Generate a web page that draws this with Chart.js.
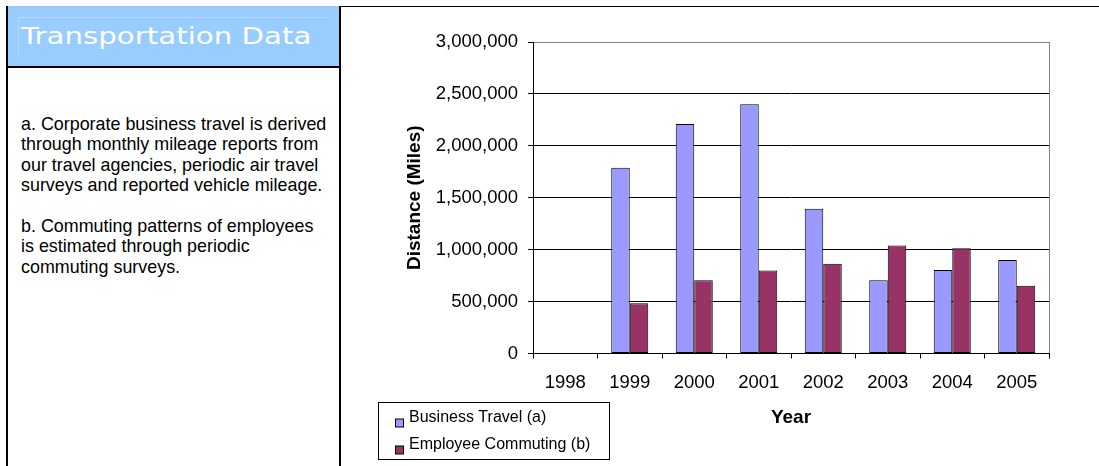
<!DOCTYPE html>
<html>
<head>
<meta charset="utf-8">
<script src="https://cdn.jsdelivr.net/npm/chart.js@4"></script>
<style>
  html, body { margin: 0; padding: 0; background: #fff; }
  body { width: 1099px; height: 466px; overflow: hidden; position: relative; }
  .line { position: absolute; background: #000; }
  #header { position: absolute; left: 8px; top: 6px; width: 331px; height: 60px; background: #99CCFF; }
  #headerFrame { position: absolute; left: 18px; top: 17px; width: 311px; height: 38px;
    border-top: 1px solid #B3D9FF; border-left: 1px solid #B3D9FF; }
  #headerText { position: absolute; left: 21px; top: 25px; font-family: "DejaVu Sans", sans-serif;
    font-size: 22.5px; line-height: 22.5px; color: #fff; white-space: nowrap;
    transform-origin: 0 0; transform: scaleX(1.30); }
  #notes { position: absolute; left: 21px; top: 114px; font-family: "Liberation Sans", Arial, sans-serif;
    font-size: 17.9px; line-height: 20.4px; color: #000; white-space: nowrap; }
  #chartBox { position: absolute; left: 341px; top: 7px; width: 758px; height: 459px; }
</style>
</head>
<body>
<div id="header"></div>
<div id="headerFrame"></div>
<div id="headerText">Transportation Data</div>
<div class="line" style="left:6px;top:6px;width:2px;height:460px"></div>
<div class="line" style="left:339px;top:6px;width:2px;height:460px"></div>
<div class="line" style="left:6px;top:66px;width:335px;height:2px"></div>
<div class="line" style="left:339px;top:6px;width:760px;height:1px"></div>
<div id="notes">a. Corporate business travel is derived<br>through monthly mileage reports from<br>our travel agencies, periodic air travel<br>surveys and reported vehicle mileage.<br><br>b. Commuting patterns of employees<br>is estimated through periodic<br>commuting surveys.</div>
<div id="chartBox"><canvas id="chart" width="758" height="459"></canvas></div>
<script>
// Annual distances in miles
const years = ['1998', '1999', '2000', '2001', '2002', '2003', '2004', '2005'];
const businessTravel = [null, 1790000, 2210000, 2400000, 1395000, 705000, 805000, 900000];
const employeeCommuting = [null, 485000, 705000, 800000, 865000, 1040000, 1013000, 653000];
const yTickValues = [0, 500000, 1000000, 1500000, 2000000, 2500000, 3000000];
const seriesNames = ['Business Travel (a)', 'Employee Commuting (b)'];
const seriesColors = ['#9999FF', '#993366'];

const FONT = '"Liberation Sans", Arial, sans-serif';

// Boxed legend in the lower-left corner under the axis
const boxedLegend = {
  id: 'boxedLegend',
  afterDraw(chart) {
    const ctx = chart.ctx;
    const box = { x: 37, y: 395, w: 231, h: 57 };
    ctx.save();
    ctx.strokeStyle = '#000';
    ctx.lineWidth = 1;
    ctx.strokeRect(box.x + 0.5, box.y + 0.5, box.w, box.h);
    ctx.font = '16px ' + FONT;
    ctx.textBaseline = 'middle';
    ctx.textAlign = 'left';
    chart.data.datasets.forEach((ds, i) => {
      const rowY = 410.5 + i * 27;
      ctx.fillStyle = ds.backgroundColor;
      ctx.fillRect(54, rowY + 1.5, 8, 8);
      ctx.strokeStyle = '#000';
      ctx.strokeRect(54.5, rowY + 1.5, 8, 8);
      ctx.fillStyle = '#000';
      ctx.fillText(ds.label, 68, rowY);
    });
    ctx.restore();
  }
};

new Chart(document.getElementById('chart'), {
  type: 'bar',
  data: {
    labels: years,
    datasets: [
      { label: seriesNames[0], data: businessTravel, backgroundColor: seriesColors[0],
        borderColor: '#000', borderWidth: 1, borderSkipped: false },
      { label: seriesNames[1], data: employeeCommuting, backgroundColor: seriesColors[1],
        borderColor: '#000', borderWidth: 1, borderSkipped: false }
    ]
  },
  options: {
    responsive: false,
    animation: false,
    devicePixelRatio: 1,
    layout: { padding: { left: 62, top: 35, right: 50, bottom: 32.5 } },
    datasets: { bar: { categoryPercentage: 0.574, barPercentage: 1 } },
    plugins: { legend: { display: false }, tooltip: { enabled: false } },
    scales: {
      x: {
        offset: true,
        grid: {
          offset: true,
          color: c => (c.type === 'tick' ? 'rgba(0,0,0,0)' : '#808080'),
          tickColor: '#000',
          tickLength: 5,
          lineWidth: 1
        },
        border: { display: true, color: '#000', width: 1 },
        ticks: { color: '#000', font: { family: FONT, size: 18.5 }, padding: 13, maxRotation: 0, autoSkip: false },
        title: { display: true, text: 'Year', color: '#000',
          font: { family: FONT, size: 19, weight: 'bold' }, padding: { top: 0, bottom: 4 } },
        afterFit: s => { s.height = 80; s.paddingLeft = 0; s.paddingRight = 0; }
      },
      y: {
        min: 0,
        max: 3000000,
        afterBuildTicks: s => { s.ticks = yTickValues.map(v => ({ value: v })); },
        grid: {
          color: c => (c.tick && c.tick.value === 3000000 ? '#808080' : '#000'),
          tickColor: '#000',
          tickLength: 5,
          lineWidth: 1
        },
        border: { display: true, color: '#000', width: 1 },
        ticks: { color: '#000', font: { family: FONT, size: 18.5 }, padding: 10,
          callback: v => Number(v).toLocaleString('en-US') },
        title: { display: true, text: 'Distance (Miles)', color: '#000',
          font: { family: FONT, size: 19, weight: 'bold' }, padding: { top: 0, bottom: 0 } },
        afterFit: s => { s.width = 130; s.paddingTop = 0; s.paddingBottom = 0; }
      }
    }
  },
  plugins: [boxedLegend]
});
</script>
</body>
</html>
